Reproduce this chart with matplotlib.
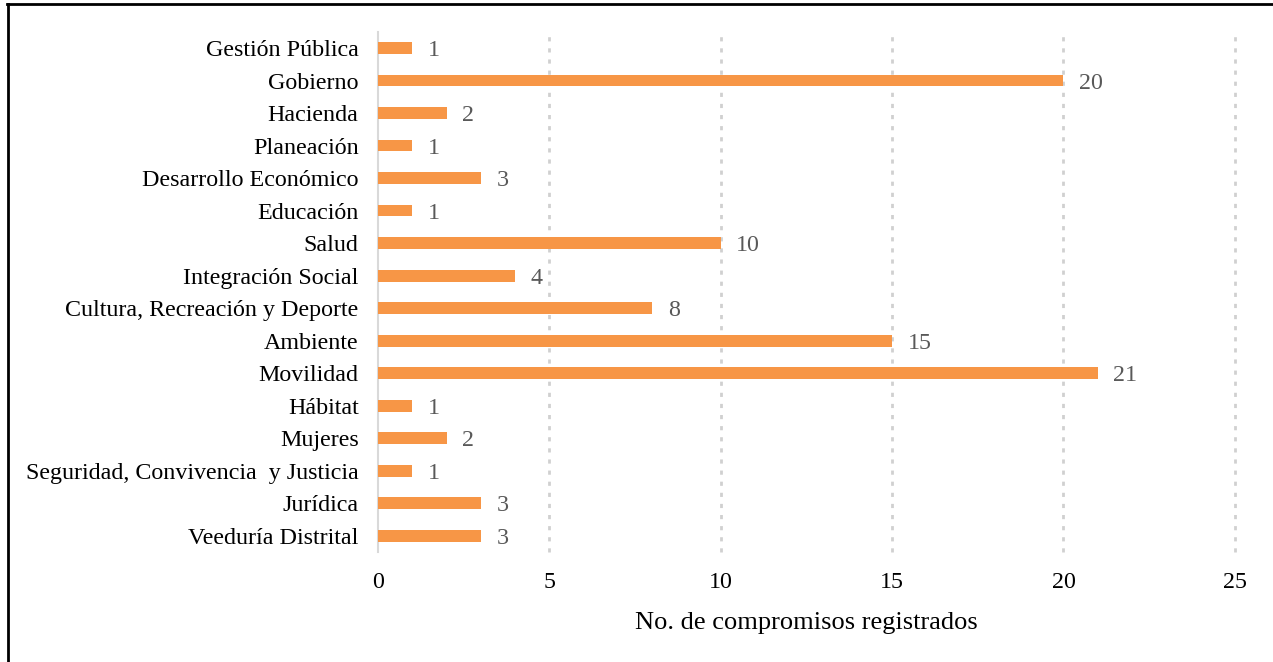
import matplotlib
matplotlib.use("Agg")
import matplotlib.pyplot as plt
from matplotlib.lines import Line2D

categories = ["Gestión Pública", "Gobierno", "Hacienda", "Planeación",
              "Desarrollo Económico", "Educación", "Salud", "Integración Social",
              "Cultura, Recreación y Deporte", "Ambiente", "Movilidad", "Hábitat",
              "Mujeres", "Seguridad, Convivencia  y Justicia", "Jurídica",
              "Veeduría Distrital"]
values = [1, 20, 2, 1, 3, 1, 10, 4, 8, 15, 21, 1, 2, 1, 3, 3]
xticks = [0, 5, 10, 15, 20, 25]
xlabel = "No. de compromisos registrados"

plt.rcParams['font.family'] = ['Liberation Serif', 'DejaVu Serif']

fig = plt.figure(figsize=(12.73, 6.62), dpi=100)
ax = fig.add_axes([0.297, 0.166, 0.673, 0.786])

ypos = list(range(len(categories)))
ax.barh(ypos, values, height=0.36, color="#F79646", zorder=3)
ax.set_ylim(len(categories) - 0.5, -0.5)
ax.set_xlim(0, 25)
ax.set_yticks(ypos)
ax.set_yticklabels(categories, fontsize=17.3, color="black")
ax.set_xticks(xticks)
ax.set_xticklabels([str(t) for t in xticks], fontsize=17.3, color="black")
ax.tick_params(axis='both', length=0)
ax.tick_params(axis='y', pad=14)
ax.tick_params(axis='x', pad=14)
ax.set_xlabel(xlabel, fontsize=19, labelpad=14)

for s in ["top", "right", "bottom"]:
    ax.spines[s].set_visible(False)
ax.spines["left"].set_color("#D9D9D9")
ax.spines["left"].set_linewidth(1.5)

for t in xticks[1:]:
    ax.axvline(t, color="#D0D0D0", linestyle=(0, (1.5, 2.5)), linewidth=2, zorder=1,
               clip_on=False)

for y, v in zip(ypos, values):
    ax.text(v + 0.45, y, str(v), va='center_baseline', ha='left', fontsize=17.3,
            color="#595959")

# outer frame (top and left visible)
fig.add_artist(Line2D([7/1273, 1], [1 - 4/662, 1 - 4/662], transform=fig.transFigure,
                      color="black", linewidth=2))
fig.add_artist(Line2D([7.5/1273, 7.5/1273], [0, 1 - 4/662], transform=fig.transFigure,
                      color="black", linewidth=2))

fig.savefig("out.png", dpi=100)
